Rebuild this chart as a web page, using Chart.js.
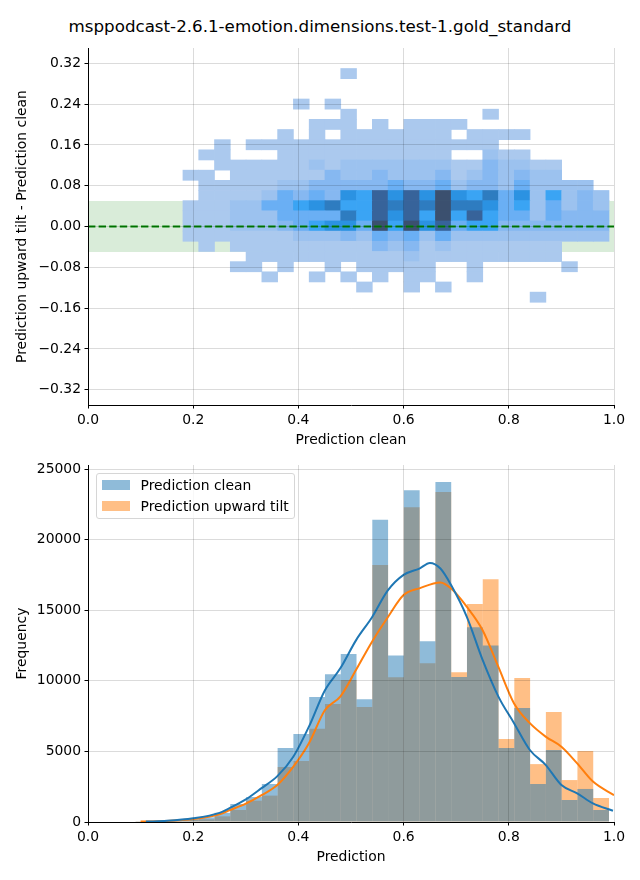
<!DOCTYPE html>
<html>
<head>
<meta charset="utf-8">
<script src="https://cdn.jsdelivr.net/npm/chart.js@4.4.1/dist/chart.umd.min.js"></script>
<style>
  body { margin: 0; background: #fff; }
  #page { position: relative; width: 640px; height: 880px; overflow: hidden; font-family: 'DejaVu Sans', sans-serif; }
  #title { position: absolute; left: 0; top: 15px; width: 640px; text-align: center; font-size: 16.7px; line-height: 22px; color: #000; }
  canvas { position: absolute; left: 0; }
  #legend { position: absolute; left: 95.5px; top: 472.5px; width: 197px; height: 44px; border: 1px solid #d6d6d6; border-radius: 3px; background: rgba(255,255,255,0.8); font-size: 13.9px; color: #000; }
  .item { position: absolute; left: 5px; height: 20px; }
  .swatch { position: absolute; left: 0; top: 5px; width: 28px; height: 10px; }
  .label { position: absolute; left: 39px; top: 0; line-height: 20px; white-space: nowrap; }
</style>
</head>
<body>
<div id="page">
  <div id="title">msppodcast-2.6.1-emotion.dimensions.test-1.gold_standard</div>
  <canvas id="topChart" width="640" height="450" style="top:0"></canvas>
  <canvas id="bottomChart" width="640" height="430" style="top:450px"></canvas>
  <div id="legend"></div>
</div>
<script>
// ---- data ----
const seriesNames = ["Prediction clean", "Prediction upward tilt"];

// histogram bins (width 0.03), centres
const binCenters = [0.1055, 0.1355, 0.1655, 0.1955, 0.2255, 0.2555, 0.2855, 0.3155, 0.3455, 0.3755,
                    0.4055, 0.4355, 0.4655, 0.4955, 0.5255, 0.5555, 0.5855, 0.6155, 0.6455, 0.6755,
                    0.7055, 0.7355, 0.7655, 0.7955, 0.8255, 0.8555, 0.8855, 0.9155, 0.9455, 0.9755];
const countsClean = [20, 60, 120, 200, 330, 650, 1275, 1770, 2690, 5240,
                     6230, 8850, 10460, 11900, 8700, 21400, 11800, 23500, 12800, 24080,
                     10270, 13800, 12500, 5240, 8070, 2690, 5100, 1560, 2340, 850];
const countsTilt = [20, 40, 90, 160, 190, 400, 850, 1510, 1870, 3900,
                    4320, 6600, 8360, 10050, 8150, 18200, 10250, 22300, 11250, 23370,
                    10600, 15440, 17200, 5880, 10200, 4100, 7790, 2970, 5030, 1700];

// kde curves
const kdeCleanX = [0.11, 0.15, 0.20, 0.25, 0.27, 0.30, 0.33, 0.36, 0.39, 0.42, 0.45, 0.48, 0.51, 0.54, 0.57,
                   0.60, 0.63, 0.65, 0.67, 0.69, 0.72, 0.75, 0.78, 0.81, 0.84, 0.87, 0.90, 0.93, 0.96, 0.998];
const kdeCleanY = [30, 80, 260, 650, 1000, 1600, 2400, 3250, 4600, 6750, 9300, 10900, 12900, 14500, 16400,
                   17500, 17950, 18350, 17950, 16800, 14550, 11500, 8900, 7000, 5100, 4050, 2620, 2030, 1320, 800];
const kdeTiltX = [0.10, 0.15, 0.20, 0.25, 0.27, 0.30, 0.33, 0.36, 0.39, 0.42, 0.45, 0.48, 0.51, 0.54, 0.57,
                  0.60, 0.63, 0.67, 0.69, 0.72, 0.75, 0.78, 0.81, 0.84, 0.87, 0.90, 0.93, 0.96, 1.0];
const kdeTiltY = [30, 70, 210, 550, 850, 1300, 1900, 2620, 3900, 5570, 7900, 8900, 10800, 12770, 14500,
                  16070, 16550, 16970, 16550, 15250, 13600, 11000, 8400, 7000, 6050, 5330, 4150, 2860, 1900];

// 2d histogram: x bins share the 0.03 grid, y bins of ~0.0199
const gridX0 = 0.1805;
const gridDX = 0.03;
const gridY0 = 0.3098;    // top edge of first row
const gridDY = 0.01993;
// density level per cell (0 = empty), rows from top to bottom, 27 columns
const densityRows = [
  "000000000010000000000000000",
  "000000000000000000000000000",
  "000000000000000000000000000",
  "000000010100000000000000000",
  "000000000010000000010000000",
  "000000001110101111000000000",
  "000000101011111110111100000",
  "001011111111111111110000000",
  "011000111111111110021100000",
  "001111112122222221132211000",
  "110111111322322231232322000",
  "011111223333343342332422220",
  "011112434365868696574625232",
  "111224456755878797764524232",
  "111222444475868595854424333",
  "111222345664959684553333333",
  "111111122232434242222222222",
  "010111111111323121111111000",
  "000011111111112111111111000",
  "000110100101111100100000100",
  "000001001010101100100000000",
  "000000000001001010000000000",
  "000000000000000000000010000"
];
const levelColors = ["", "#abc9ee", "#9cc2ef", "#86b8f1", "#6aaff4", "#3aa4f4", "#2b92e2", "#2e7cc0", "#37639a", "#3b506f"];

const bandLimit = 0.05;
const yTicksTop = [-0.32, -0.24, -0.16, -0.08, 0, 0.08, 0.16, 0.24, 0.32];
const yTicksBottom = [0, 5000, 10000, 15000, 20000, 25000];

// ---- helpers ----
Chart.defaults.font.family = "'DejaVu Sans', sans-serif";
Chart.defaults.font.size = 13.9;
Chart.defaults.color = "#000";
Chart.defaults.animation = false;

const gridColor = "rgba(0,0,0,0.14)";

function xAxis(titleText, titlePad, height) {
  return {
    type: "linear", min: 0, max: 1, offset: false,
    ticks: { stepSize: 0.2, padding: 3.5, callback: v => v.toFixed(1) },
    grid: { color: gridColor, lineWidth: 1, tickColor: "#000", tickLength: 3.5, tickWidth: 1, offset: false, z: 1 },
    border: { display: true, color: "#000", width: 1, z: 2 },
    title: { display: true, text: titleText, padding: { top: 0, bottom: titlePad } },
    afterFit: s => { s.height = height; }
  };
}
function yAxis(titleText, min, max, tickList, fmt) {
  return {
    type: "linear", min: min, max: max,
    afterBuildTicks: s => { s.ticks = tickList.map(v => ({ value: v })); },
    ticks: { padding: 3.5, callback: fmt },
    grid: { color: gridColor, lineWidth: 1, tickColor: "#000", tickLength: 3.5, tickWidth: 1, z: 1 },
    border: { display: true, color: "#000", width: 1, z: 2 },
    title: { display: true, text: titleText, padding: { top: 13.7, bottom: 0 } },
    afterFit: s => { s.width = 88; }
  };
}

// ---- top: 2d histogram ----
const cells = [];
const cellColors = [];
densityRows.forEach((row, r) => {
  const hi = gridY0 - r * gridDY;
  for (let c = 0; c < row.length; c++) {
    const lvl = Number(row[c]);
    if (!lvl) continue;
    cells.push({ x: gridX0 + (c + 0.5) * gridDX, y: [hi - gridDY, hi] });
    cellColors.push(levelColors[lvl]);
  }
});

new Chart(document.getElementById("topChart"), {
  type: "bar",
  data: {
    datasets: [
      {
        type: "line", order: 0,
        data: [{ x: 0, y: 0 }, { x: 1, y: 0 }],
        borderColor: "#008000", borderWidth: 2, borderDash: [7.4, 3.2],
        pointRadius: 0, fill: false
      },
      {
        type: "bar", order: 1,
        data: cells, backgroundColor: cellColors,
        borderWidth: 0, grouped: false, barPercentage: 1, categoryPercentage: 1
      },
      {
        type: "line", order: 2,
        data: [{ x: 0, y: bandLimit }, { x: 1, y: bandLimit }],
        borderWidth: 0, borderColor: "rgba(0,0,0,0)", pointRadius: 0,
        backgroundColor: "rgba(0,128,0,0.15)", fill: { value: -bandLimit }
      }
    ]
  },
  options: {
    responsive: false,
    layout: { padding: { left: 0, right: 26, top: 48, bottom: 0 } },
    plugins: { legend: { display: false }, tooltip: { enabled: false } },
    scales: {
      x: xAxis("Prediction clean", 1.7, 45),
      y: yAxis("Prediction upward tilt - Prediction clean", -0.35, 0.35, yTicksTop,
               v => (v < 0 ? "\u2212" : "") + Math.abs(v).toFixed(2))
    }
  }
});

// ---- bottom: histograms with kde ----
const barOpts = { type: "bar", borderWidth: 0, inflateAmount: 0, grouped: false, barPercentage: 1, categoryPercentage: 1 };
new Chart(document.getElementById("bottomChart"), {
  type: "bar",
  data: {
    datasets: [
      {
        type: "line", order: 0, label: seriesNames[0],
        data: kdeCleanX.map((x, i) => ({ x: x, y: kdeCleanY[i] })),
        borderColor: "#1f77b4", borderWidth: 2, pointRadius: 0, cubicInterpolationMode: "monotone"
      },
      {
        type: "line", order: 1, label: seriesNames[1],
        data: kdeTiltX.map((x, i) => ({ x: x, y: kdeTiltY[i] })),
        borderColor: "#ff7f0e", borderWidth: 2, pointRadius: 0, cubicInterpolationMode: "monotone"
      },
      Object.assign({}, barOpts, {
        order: 2, label: seriesNames[0],
        data: binCenters.map((x, i) => ({ x: x, y: countsClean[i] })),
        backgroundColor: "rgba(31,119,180,0.5)"
      }),
      Object.assign({}, barOpts, {
        order: 3, label: seriesNames[1],
        data: binCenters.map((x, i) => ({ x: x, y: countsTilt[i] })),
        backgroundColor: "rgba(255,127,14,0.5)"
      })
    ]
  },
  options: {
    responsive: false,
    layout: { padding: { left: 0, right: 26, top: 15, bottom: 0 } },
    plugins: { legend: { display: false }, tooltip: { enabled: false } },
    scales: {
      x: xAxis("Prediction", 14.7, 58),
      y: yAxis("Frequency", 0, 25284, yTicksBottom, v => String(v))
    }
  }
});

// legend (upper left of the lower panel)
const legendColors = ["rgba(31,119,180,0.5)", "rgba(255,127,14,0.5)"];
const legend = document.getElementById("legend");
seriesNames.forEach((name, i) => {
  const item = document.createElement("div");
  item.className = "item";
  item.style.top = (1.5 + i * 21) + "px";
  item.innerHTML = '<span class="swatch" style="background:' + legendColors[i] + '"></span>' +
                   '<span class="label">' + name + '</span>';
  legend.appendChild(item);
});
</script>
</body>
</html>
